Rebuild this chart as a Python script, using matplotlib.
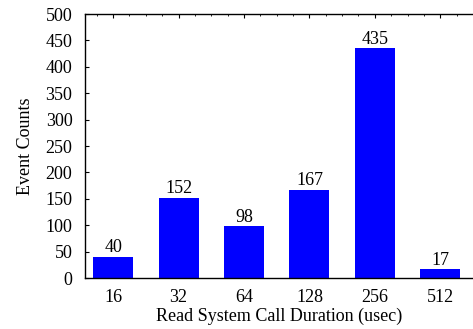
import numpy as np
import matplotlib
matplotlib.use('Agg')
import matplotlib.pyplot as plt
from matplotlib.ticker import FixedLocator

durations = ['16', '32', '64', '128', '256', '512']
counts = [40, 152, 98, 167, 435, 17]

plt.rcParams['font.family'] = ['Liberation Serif', 'DejaVu Serif']
plt.rcParams['font.size'] = 13

fig = plt.figure(figsize=(4.73, 3.29), dpi=100)
ax = fig.add_axes([0.1797, 0.155, 0.8203, 0.8024])

x = np.arange(len(durations))
ax.bar(x, counts, width=0.61, color='#0000ff', zorder=2)
for xi, c in zip(x, counts):
    ax.text(xi, c + 1, str(c), ha='center', va='bottom', fontsize=13)

ax.set_xlim(-0.43, 5.5)
ax.set_ylim(0, 500)
ax.set_yticks(np.arange(0, 501, 50))
ax.set_xticks(x)
ax.set_xticklabels(durations)
ax.xaxis.set_minor_locator(FixedLocator(np.arange(-0.25, 5.5, 0.25)))

ax.spines['right'].set_visible(False)
for s in ['left', 'top', 'bottom']:
    ax.spines[s].set_linewidth(1.0)

ax.tick_params(axis='y', which='major', direction='in', length=3, width=0.8,
               left=True, right=False, pad=9)
ax.tick_params(axis='x', which='major', direction='in', length=3, width=0.8,
               top=True, bottom=True, pad=8)
ax.tick_params(axis='x', which='minor', direction='in', length=1.5, width=0.6,
               top=True, bottom=False)
ax.set_axisbelow(True)

ax.set_ylabel('Event Counts', labelpad=8)
ax.set_xlabel('Read System Call Duration (usec)', labelpad=1)

fig.savefig('out.png', dpi=100)
